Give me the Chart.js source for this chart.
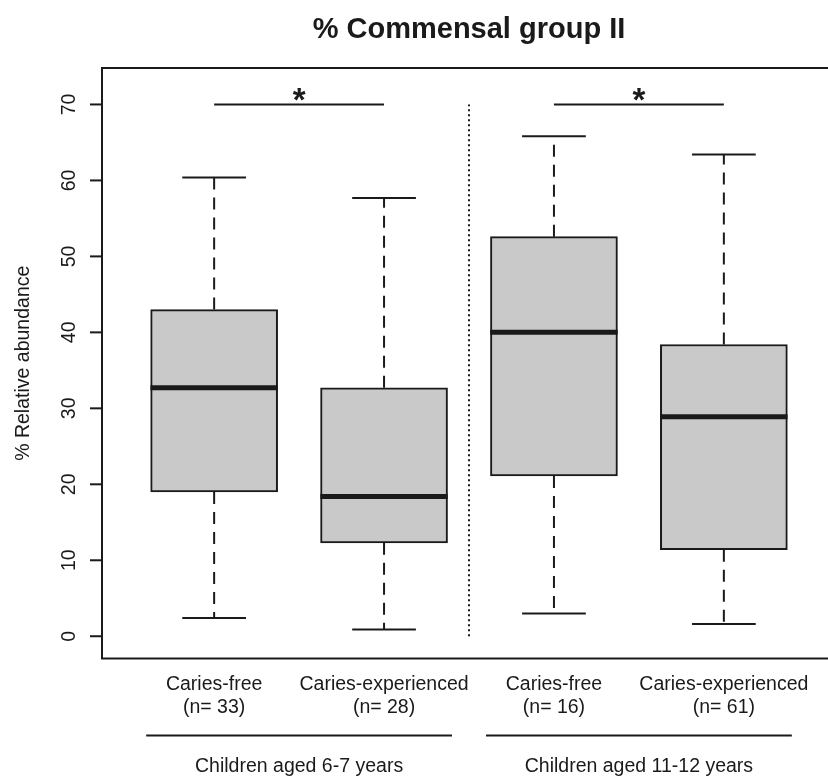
<!DOCTYPE html>
<html>
<head>
<meta charset="utf-8">
<script src="https://cdn.jsdelivr.net/npm/chart.js@4/dist/chart.umd.min.js"></script>
<style>
  html, body { margin: 0; padding: 0; background: #fff; overflow: hidden; }
  canvas { display: block; }
</style>
</head>
<body>
<canvas id="boxChart" width="840" height="776"></canvas>
<script>
// Kutu grafiği verileri (okunan değerler)
const groups = ['Caries-free', 'Caries-experienced', 'Caries-free', 'Caries-experienced'];
const sizes = ['(n= 33)', '(n= 28)', '(n= 16)', '(n= 61)'];
const positions = [1, 2, 3, 4];
const whiskerLow = [2.4, 0.9, 3.0, 1.6];
const q1 = [19.0, 12.3, 21.1, 11.4];
const median = [32.7, 18.4, 40.0, 28.9];
const q3 = [43.0, 32.7, 52.6, 38.4];
const whiskerHigh = [60.4, 57.7, 65.8, 63.4];
const yTicks = [0, 10, 20, 30, 40, 50, 60, 70];
const ageGroups = ['Children aged 6-7 years', 'Children aged 11-12 years'];
const agePositions = [1.5, 3.5];
const sigPairs = [[1, 2], [3, 4]];
const sigLevel = 70;

const ink = '#1a1a1a';
const boxHalf = 0.375;
const capHalf = 0.1875;
const labelFont = '19.5px "Liberation Sans", Arial, sans-serif';

// Yardımcı: iki noktalı çizgi dataset'i
function segment(x1, y1, x2, y2, width, dash, order) {
    return {
        type: 'line',
        data: [{ x: x1, y: y1 }, { x: x2, y: y2 }],
        borderColor: ink,
        borderWidth: width,
        borderDash: dash || [],
        pointRadius: 0,
        fill: false,
        tension: 0,
        order: order
    };
}

const datasets = [];

// Medyan çizgileri (en üstte)
positions.forEach((p, i) => {
    datasets.push(segment(p - boxHalf, median[i], p + boxHalf, median[i], 5, null, 0));
});

// Bıyıklar ve uç çizgileri
positions.forEach((p, i) => {
    datasets.push(segment(p, q3[i], p, whiskerHigh[i], 2, [12, 8], 1));
    datasets.push(segment(p, q1[i], p, whiskerLow[i], 2, [12, 8], 1));
    datasets.push(segment(p - capHalf, whiskerHigh[i], p + capHalf, whiskerHigh[i], 2, null, 1));
    datasets.push(segment(p - capHalf, whiskerLow[i], p + capHalf, whiskerLow[i], 2, null, 1));
});

// Anlamlılık çizgileri
sigPairs.forEach(pair => {
    datasets.push(segment(pair[0], sigLevel, pair[1], sigLevel, 2, null, 1));
});

// Yaş grupları arasındaki noktalı ayraç
datasets.push(segment(2.5, 0, 2.5, 70, 2, [2, 3], 1));

// Kutular (yüzen çubuklar)
datasets.push({
    type: 'bar',
    data: positions.map((p, i) => ({ x: p, y: [q1[i], q3[i]] })),
    backgroundColor: '#c9c9c9',
    borderColor: ink,
    borderWidth: 2,
    borderSkipped: false,
    grouped: false,
    barThickness: 127,
    order: 2
});

// Çerçeve, eksen, başlık ve etiketler
const decorations = {
    id: 'decorations',
    afterDatasetsDraw(chart) {
        const { ctx, chartArea: a, scales: { x, y } } = chart;
        ctx.save();
        ctx.strokeStyle = ink;
        ctx.fillStyle = ink;

        // Çerçeve
        ctx.lineWidth = 2;
        ctx.strokeRect(a.left, a.top, a.right - a.left, a.bottom - a.top);

        // Y ekseni tikleri ve döndürülmüş etiketler
        ctx.font = labelFont;
        yTicks.forEach(t => {
            const py = y.getPixelForValue(t);
            ctx.beginPath();
            ctx.moveTo(a.left - 12, py);
            ctx.lineTo(a.left, py);
            ctx.stroke();
            ctx.save();
            ctx.translate(74.5, py);
            ctx.rotate(-Math.PI / 2);
            ctx.textAlign = 'center';
            ctx.textBaseline = 'alphabetic';
            ctx.fillText(String(t), 0, 0);
            ctx.restore();
        });

        // Y ekseni başlığı
        ctx.save();
        ctx.translate(29, (a.top + a.bottom) / 2);
        ctx.rotate(-Math.PI / 2);
        ctx.textAlign = 'center';
        ctx.textBaseline = 'alphabetic';
        ctx.fillText('% Relative abundance', 0, 0);
        ctx.restore();

        // Başlık
        ctx.font = 'bold 29px "Liberation Sans", Arial, sans-serif';
        ctx.textAlign = 'center';
        ctx.textBaseline = 'alphabetic';
        ctx.fillText('% Commensal group II', (a.left + a.right) / 2, 38);

        // Yıldızlar
        ctx.font = 'bold 33px "Liberation Sans", Arial, sans-serif';
        sigPairs.forEach(pair => {
            const px = x.getPixelForValue((pair[0] + pair[1]) / 2);
            ctx.fillText('*', px, y.getPixelForValue(sigLevel) + 7);
        });

        // Kategori etiketleri
        ctx.font = labelFont;
        positions.forEach((p, i) => {
            const px = x.getPixelForValue(p);
            ctx.fillText(groups[i], px, 690);
            ctx.fillText(sizes[i], px, 713);
        });

        // Yaş grubu çizgileri ve etiketleri
        ctx.lineWidth = 2;
        agePositions.forEach((p, i) => {
            ctx.beginPath();
            ctx.moveTo(x.getPixelForValue(p - 0.9), 735.5);
            ctx.lineTo(x.getPixelForValue(p + 0.9), 735.5);
            ctx.stroke();
            ctx.fillText(ageGroups[i], x.getPixelForValue(p), 771.5);
        });

        ctx.restore();
    }
};

new Chart(document.getElementById('boxChart'), {
    type: 'bar',
    data: { datasets: datasets },
    options: {
        responsive: false,
        animation: false,
        layout: { padding: { left: 102, top: 68, right: 4, bottom: 117.5 } },
        scales: {
            x: { type: 'linear', min: 0.34, max: 4.66, offset: false, display: false },
            y: { type: 'linear', min: -2.93, max: 74.8, display: false }
        },
        plugins: {
            legend: { display: false },
            tooltip: { enabled: false },
            title: { display: false }
        }
    },
    plugins: [decorations]
});
</script>
</body>
</html>
